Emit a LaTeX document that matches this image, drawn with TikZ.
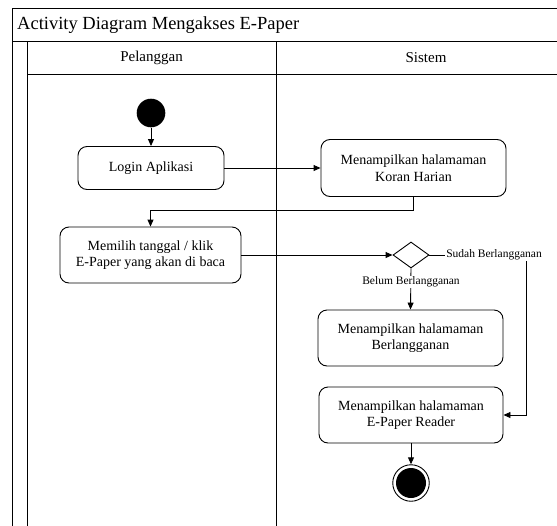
\documentclass[tikz,border=0pt]{standalone}
\usepackage{fontspec}
\setmainfont{Liberation Serif}
\usetikzlibrary{arrows.meta,shapes.geometric}
\begin{document}
\begin{tikzpicture}[x=1pt,y=-1pt,
  frame/.style={line width=0.9pt},
  act/.style={draw, line width=0.9pt, rounded corners=9pt, align=center,
    font=\fontsize{14}{16.5}\selectfont, inner sep=0pt},
  flow/.style={line width=0.9pt, -{Triangle[length=7pt,width=6pt]}},
  lbl/.style={fill=white, inner sep=1pt, font=\fontsize{11.5}{13}\selectfont},
]
\useasboundingbox (0,0) rectangle (557,525);
\clip (0,0) rectangle (557,525);

% swimlane frame with title bar and two lanes
\draw[frame] (12.5,8) rectangle (600,560);
\draw[frame] (12.5,41) -- (600,41);
\draw[frame] (27,41) -- (27,560);
\draw[frame] (27,74) -- (600,74);
\draw[frame] (276,41) -- (276,560);
\node[anchor=west, inner sep=0pt, font=\fontsize{18.5}{20}\selectfont] (title) at (17,25) {Activity Diagram Mengakses E-Paper};
\node[font=\fontsize{15}{17}\selectfont] (lanep) at (151.5,58) {Pelanggan};
\node[font=\fontsize{15}{17}\selectfont] (lanes) at (426,58) {Sistem};

% actions
\node[circle, fill, minimum size=28.6pt, inner sep=0pt] (start) at (151,113) {};
\node[act, minimum width=146pt, minimum height=43pt] (login) at (151,168) {Login Aplikasi};
\node[act, minimum width=181pt, minimum height=56pt] (pilih) at (150.5,255) {Memilih tanggal / klik\\E-Paper yang akan di baca};
\node[act, minimum width=185pt, minimum height=57pt] (koran) at (413.5,168) {Menampilkan halamaman\\Koran Harian};
\node[diamond, draw, line width=0.9pt, minimum width=36pt, minimum height=26pt, inner sep=0pt] (cek) at (411,255) {};
\node[act, minimum width=185pt, minimum height=56pt] (langganan) at (410.5,338) {Menampilkan halamaman\\Berlangganan};
\node[act, minimum width=184pt, minimum height=56pt] (reader) at (411,415) {Menampilkan halamaman\\E-Paper Reader};
\node[circle, draw, line width=0.9pt, minimum size=36.5pt, inner sep=0pt] (akhir) at (411,483) {};
\node[circle, fill, minimum size=30pt, inner sep=0pt] (akhirdot) at (akhir.center) {};

% control flow
\draw[flow] (start) -- (login);
\draw[flow] (login) -- (koran);
\draw[flow] (koran.south) -- ++(0,13) -| (pilih.north);
\draw[flow] (pilih) -- (cek);
\draw[flow] (cek.south) -- (langganan.north);
\draw[flow] (cek.east) -- ++(97,0) |- (reader.east);
\draw[flow] (reader) -- (akhir);

% guard labels
\node[lbl] (sudah) at (494,255) {Sudah Berlangganan};
\node[lbl] (belum) at (411,282) {Belum Berlangganan};
\end{tikzpicture}
\end{document}
